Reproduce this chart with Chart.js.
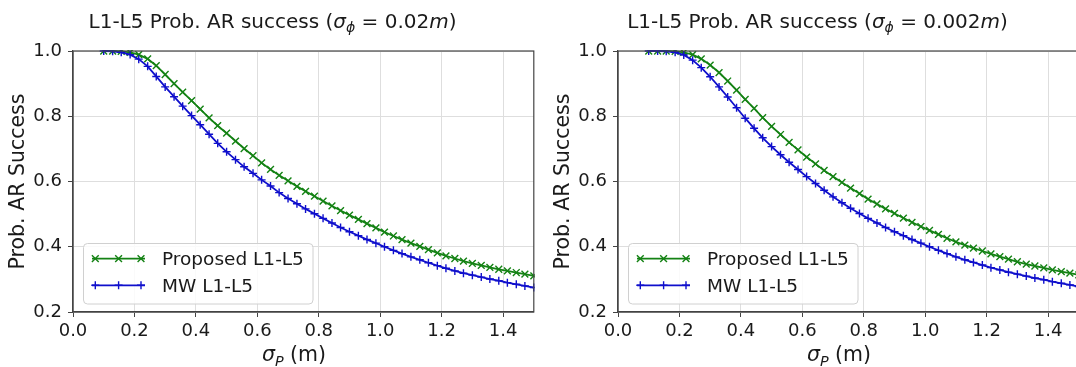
<!DOCTYPE html>
<html>
<head>
<meta charset="utf-8">
<script src="https://cdn.jsdelivr.net/npm/chart.js@4.4.0/dist/chart.umd.min.js"></script>
<style>
html, body { margin: 0; padding: 0; background: #fff; overflow: hidden; width: 1076px; height: 367px; }
.panel { position: absolute; top: 0; width: 540px; height: 367px; }
</style>
</head>
<body>
<div class="panel" style="left:0"><canvas id="chartLeft" width="540" height="367"></canvas></div>
<div class="panel" style="left:545px"><canvas id="chartRight" width="540" height="367"></canvas></div>
<script>
// sigma_P values (m)
const sigmaP = [0.1, 0.129, 0.157, 0.186, 0.214, 0.243, 0.271, 0.3, 0.329, 0.357,
    0.386, 0.414, 0.443, 0.471, 0.5, 0.529, 0.557, 0.586, 0.614, 0.643,
    0.671, 0.7, 0.729, 0.757, 0.786, 0.814, 0.843, 0.871, 0.9, 0.929,
    0.957, 0.986, 1.014, 1.043, 1.071, 1.1, 1.129, 1.157, 1.186, 1.214,
    1.243, 1.271, 1.3, 1.329, 1.357, 1.386, 1.414, 1.443, 1.471, 1.5];

// sigma_phi = 0.02 m
const proposedLeft = [1.0, 1.0, 0.999, 0.996, 0.989, 0.976, 0.955, 0.928, 0.900, 0.874,
    0.848, 0.822, 0.795, 0.771, 0.748, 0.724, 0.701, 0.679, 0.657, 0.637,
    0.619, 0.602, 0.585, 0.570, 0.555, 0.540, 0.525, 0.511, 0.497, 0.484,
    0.471, 0.458, 0.445, 0.433, 0.422, 0.411, 0.401, 0.391, 0.381, 0.372,
    0.364, 0.356, 0.349, 0.343, 0.337, 0.331, 0.326, 0.321, 0.316, 0.311];
const mwLeft = [1.0, 0.999, 0.996, 0.989, 0.975, 0.953, 0.922, 0.890, 0.860, 0.831,
    0.802, 0.774, 0.745, 0.717, 0.691, 0.667, 0.645, 0.625, 0.605, 0.586,
    0.566, 0.548, 0.532, 0.516, 0.501, 0.487, 0.473, 0.459, 0.446, 0.434,
    0.422, 0.411, 0.400, 0.389, 0.379, 0.369, 0.360, 0.351, 0.342, 0.334,
    0.326, 0.319, 0.313, 0.307, 0.301, 0.296, 0.290, 0.285, 0.280, 0.275];

// sigma_phi = 0.002 m
const proposedRight = [1.0, 1.0, 1.0, 0.999, 0.996, 0.989, 0.976, 0.957, 0.934, 0.908,
    0.880, 0.852, 0.824, 0.796, 0.769, 0.744, 0.720, 0.697, 0.675, 0.654,
    0.634, 0.615, 0.597, 0.580, 0.563, 0.546, 0.531, 0.516, 0.502, 0.488,
    0.475, 0.462, 0.450, 0.438, 0.426, 0.415, 0.405, 0.396, 0.387, 0.378,
    0.370, 0.362, 0.354, 0.347, 0.341, 0.335, 0.329, 0.324, 0.319, 0.314];
const mwRight = [1.0, 1.0, 0.999, 0.996, 0.988, 0.972, 0.949, 0.921, 0.890, 0.859,
    0.826, 0.794, 0.763, 0.734, 0.707, 0.682, 0.659, 0.637, 0.615, 0.594,
    0.573, 0.553, 0.535, 0.518, 0.502, 0.487, 0.473, 0.459, 0.446, 0.434,
    0.422, 0.411, 0.400, 0.389, 0.379, 0.369, 0.360, 0.352, 0.344, 0.336,
    0.329, 0.322, 0.316, 0.310, 0.304, 0.299, 0.293, 0.288, 0.283, 0.278];

const seriesNames = ['Proposed L1-L5', 'MW L1-L5'];
const FONT = '"DejaVu Sans", sans-serif';
const GREEN = '#148214';
const BLUE = '#0f0fcc';

// draw text made of plain / italic / italic-subscript pieces
function richWidth(ctx, parts, size) {
    let w = 0;
    parts.forEach(p => {
        const s = p[1] === 's' ? size * 0.7 : size;
        ctx.font = (p[1] ? 'italic ' : '') + s + 'px ' + FONT;
        w += ctx.measureText(p[0]).width;
    });
    return w;
}
function drawRich(ctx, parts, cx, y, size) {
    let x = cx - richWidth(ctx, parts, size) / 2;
    ctx.textAlign = 'left';
    ctx.textBaseline = 'alphabetic';
    parts.forEach(p => {
        const sub = p[1] === 's';
        const s = sub ? size * 0.7 : size;
        ctx.font = (p[1] ? 'italic ' : '') + s + 'px ' + FONT;
        ctx.fillText(p[0], x, sub ? y + size * 0.22 : y);
        x += ctx.measureText(p[0]).width;
    });
}
function drawMarker(ctx, style, cx, cy) {
    ctx.beginPath();
    if (style === 'crossRot') {
        ctx.moveTo(cx - 3.4, cy - 3.4); ctx.lineTo(cx + 3.4, cy + 3.4);
        ctx.moveTo(cx - 3.4, cy + 3.4); ctx.lineTo(cx + 3.4, cy - 3.4);
    } else {
        ctx.moveTo(cx - 4, cy); ctx.lineTo(cx + 4, cy);
        ctx.moveTo(cx, cy - 4); ctx.lineTo(cx, cy + 4);
    }
    ctx.stroke();
}

const decor = {
    id: 'decor',
    afterDraw(chart, args, opts) {
        const ctx = chart.ctx;
        const a = chart.chartArea;
        ctx.save();
        // spines
        ctx.strokeStyle = '#444';
        ctx.lineWidth = 1.2;
        ctx.strokeRect(a.left, a.top, a.right - a.left, a.bottom - a.top);
        ctx.fillStyle = '#1a1a1a';
        // title
        drawRich(ctx, opts.title, a.left + 199.5, 27.5, 20);
        // x label
        drawRich(ctx, [['σ', 'i'], ['P', 's'], [' (m)', '']], a.left + 221, 361, 20.5);
        // y label
        ctx.save();
        ctx.translate(18.5, (a.top + a.bottom) / 2);
        ctx.rotate(-Math.PI / 2);
        ctx.font = '20.5px ' + FONT;
        ctx.textAlign = 'center';
        ctx.textBaseline = 'middle';
        ctx.fillText('Prob. AR Success', 0, 0);
        ctx.restore();
        // legend
        const L = a.left + 10, T = a.bottom - 69;
        ctx.beginPath();
        ctx.roundRect(L + 0.5, T + 0.5, 229.5, 60.5, 4);
        ctx.fillStyle = 'rgba(255,255,255,0.85)';
        ctx.fill();
        ctx.strokeStyle = '#d0d0d0';
        ctx.lineWidth = 1;
        ctx.stroke();
        const legendItems = [chart.data.datasets[1], chart.data.datasets[0]];
        legendItems.forEach((ds, i) => {
            const cy = T + 15.6 + i * 26.7;
            ctx.strokeStyle = ds.borderColor;
            ctx.lineWidth = 1.8;
            ctx.beginPath();
            ctx.moveTo(L + 9, cy); ctx.lineTo(L + 62, cy);
            ctx.stroke();
            ctx.lineWidth = 1.4;
            [L + 12.3, L + 35.6, L + 58].forEach(mx => drawMarker(ctx, ds.pointStyle, mx, cy));
            ctx.fillStyle = '#1a1a1a';
            ctx.font = '18.5px ' + FONT;
            ctx.textAlign = 'left';
            ctx.textBaseline = 'alphabetic';
            ctx.fillText(ds.label, L + 79, cy + 6.7);
        });
        ctx.restore();
    }
};

function makeChart(id, titleParts, proposed, mw) {
    const canvas = document.getElementById(id);
    if (!canvas) return;
    new Chart(canvas, {
        type: 'line',
        data: {
            datasets: [
                {
                    label: seriesNames[1],
                    data: sigmaP.map((x, i) => ({ x: x, y: mw[i] })),
                    borderColor: BLUE,
                    backgroundColor: BLUE,
                    borderWidth: 1.8,
                    pointStyle: 'cross',
                    pointRadius: 4,
                    pointBorderWidth: 1.4,
                    pointBorderColor: BLUE,
                    tension: 0,
                    clip: 1
                },
                {
                    label: seriesNames[0],
                    data: sigmaP.map((x, i) => ({ x: x, y: proposed[i] })),
                    borderColor: GREEN,
                    backgroundColor: GREEN,
                    borderWidth: 1.8,
                    pointStyle: 'crossRot',
                    pointRadius: 4.8,
                    pointBorderWidth: 1.4,
                    pointBorderColor: GREEN,
                    tension: 0,
                    clip: 1
                }
            ]
        },
        options: {
            responsive: false,
            animation: false,
            events: [],
            layout: { padding: { top: 51, right: 6, left: 0, bottom: 0 } },
            plugins: {
                legend: { display: false },
                tooltip: { enabled: false },
                decor: { title: titleParts }
            },
            scales: {
                x: {
                    type: 'linear',
                    min: 0,
                    max: 1.5,
                    afterFit: s => { s.height = 55; },
                    afterBuildTicks: s => { s.ticks = s.ticks.filter(t => t.value < 1.45); },
                    ticks: {
                        stepSize: 0.2,
                        includeBounds: false,
                        padding: 4,
                        maxRotation: 0,
                        autoSkip: false,
                        color: '#1a1a1a',
                        font: { family: FONT, size: 18 },
                        callback: v => v.toFixed(1)
                    },
                    grid: { color: '#dedede', lineWidth: 1, tickColor: '#444', tickLength: 5 },
                    border: { display: true, color: '#444', width: 1.2 }
                },
                y: {
                    min: 0.2,
                    max: 1.0,
                    afterFit: s => { s.width = 73; },
                    ticks: {
                        stepSize: 0.2,
                        padding: 6,
                        color: '#1a1a1a',
                        font: { family: FONT, size: 18 },
                        callback: v => v.toFixed(1)
                    },
                    grid: { color: '#dedede', lineWidth: 1, tickColor: '#444', tickLength: 5 },
                    border: { display: true, color: '#444', width: 1.2 }
                }
            }
        },
        plugins: [decor]
    });
}

makeChart('chartLeft',
    [['L1-L5 Prob. AR success (', ''], ['σ', 'i'], ['ϕ', 's'], [' = 0.02', ''], ['m', 'i'], [')', '']],
    proposedLeft, mwLeft);
makeChart('chartRight',
    [['L1-L5 Prob. AR success (', ''], ['σ', 'i'], ['ϕ', 's'], [' = 0.002', ''], ['m', 'i'], [')', '']],
    proposedRight, mwRight);
</script>
</body>
</html>
